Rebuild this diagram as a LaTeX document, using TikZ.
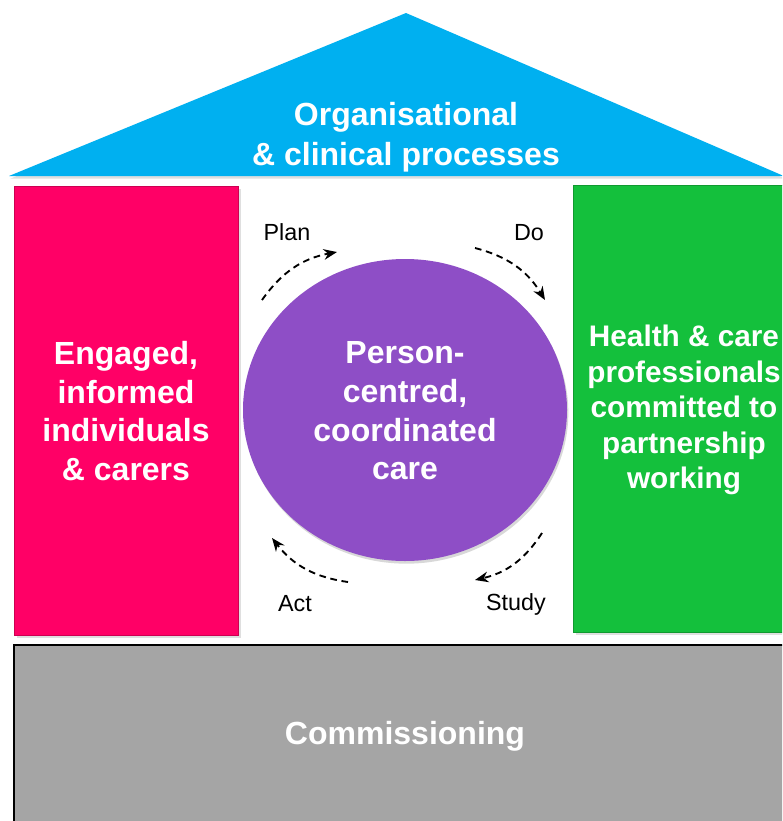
\documentclass[tikz,border=0pt]{standalone}
\usepackage{fontspec}
\setmainfont{Liberation Sans}
\usetikzlibrary{arrows.meta,shadows}
\definecolor{roofblue}{RGB}{0,176,240}
\definecolor{pinkwall}{RGB}{255,0,102}
\definecolor{greenwall}{RGB}{20,192,60}
\definecolor{carepurple}{RGB}{142,78,198}
\definecolor{floorgrey}{RGB}{165,165,165}
\tikzset{
  wall/.style={draw=#1!80!black, fill=#1, drop shadow={opacity=0.25, shadow xshift=2pt, shadow yshift=-2pt}},
  bigtext/.style={text=white, align=center, font=\fontsize{24}{29}\selectfont\bfseries},
  cycletext/.style={text=black, font=\fontsize{17.5}{21}\selectfont},
  cyclearrow/.style={line width=1.4pt, dash pattern=on 5pt off 3.5pt, -{Stealth[length=10pt,width=8pt]}}
}
\begin{document}
\begin{tikzpicture}[x=0.75pt, y=-0.75pt]
      \clip (0,0) rectangle (782,821);
      \fill[white] (0,0) rectangle (782,821);
      % roof
      \fill[roofblue, drop shadow={opacity=0.25, shadow xshift=1pt, shadow yshift=-2pt}]
        (9,176) -- (406,13) -- (800,183) -- (800,176) -- cycle;
      \node[bigtext] (roof) at (406,137) {Organisational\\[1pt]\& clinical processes};
      % walls
      \draw[wall=pinkwall] (14,186) rectangle (238,635);
      \node[bigtext] (left) at (126,411) {Engaged,\\informed\\individuals\\\& carers};
      \draw[wall=greenwall] (573,185) rectangle (800,632);
      \node[bigtext, font=\fontsize{22.3}{26.6}\selectfont\bfseries] (right) at (684,410)
        {Health \& care\\professionals\\committed to\\partnership\\working};
      % floor
      \draw[fill=floorgrey, line width=1.2pt] (14,645) rectangle (800,830);
      \node[bigtext] (floor) at (405,736) {Commissioning};
      % centre
      \fill[carepurple, drop shadow={opacity=0.3, shadow xshift=1pt, shadow yshift=-2pt}]
        (405,410) ellipse [x radius=162, y radius=151];
      \node[bigtext] (care) at (405,411) {Person-\\centred,\\coordinated\\care};
      % cycle labels
      \node[cycletext] (plan) at (287,232) {Plan};
      \node[cycletext] (do) at (529,233) {Do};
      \node[cycletext] (study) at (516,604) {Study};
      \node[cycletext] (act) at (295,604) {Act};
      \coordinate (p1) at (262,300);
      \coordinate (p2) at (337,252);
      \coordinate (d1) at (475,248);
      \coordinate (d2) at (545,300);
      \coordinate (s1) at (542,533);
      \coordinate (s2) at (475,580);
      \coordinate (a1) at (348,582);
      \coordinate (a2) at (272,538);
      \begin{scope}[cyclearrow]
        \draw (p1) to[bend left=22] (p2);
        \draw (d1) to[bend left=22] (d2);
        \draw (s1) to[bend left=22] (s2);
        \draw (a1) to[bend left=22] (a2);
      \end{scope}
    \end{tikzpicture}
\end{document}
